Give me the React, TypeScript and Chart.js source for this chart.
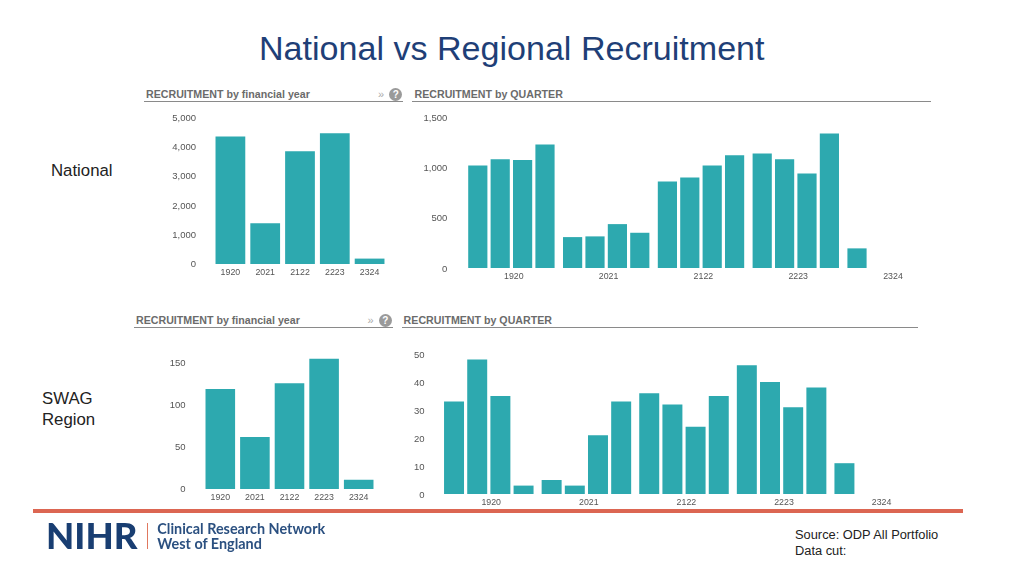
import React, { useEffect, useRef } from "react";
import { Chart, registerables } from "chart.js";

Chart.register(...registerables);

const years = ["1920", "2021", "2122", "2223", "2324"];

const nationalYear = [4370, 1395, 3865, 4480, 185];
const nationalQ1 = [1018, 307, 859, 1137, 195];
const nationalQ2 = [1080, 314, 899, 1080, null];
const nationalQ3 = [1074, 436, 1018, 938, null];
const nationalQ4 = [1226, 350, 1120, 1335, null];

const swagYear = [119, 62, 126, 155, 11];
const swagQ1 = [33, 5, 36, 46, 11];
const swagQ2 = [48, 3, 32, 40, null];
const swagQ3 = [35, 21, 24, 31, null];
const swagQ4 = [3, 33, 35, 38, null];

const TEAL = "#2da9af";
const FONT = '"Liberation Sans", Arial, sans-serif';

type Panel = {
  series: (number | null)[][];
  left: number; right: number; top: number; bottom: number;
  max: number; step: number;
  pad: number; catPct: number; barPct: number; labelOffset: number; yOffset: number;
};

const panels: Panel[] = [
  { series: [nationalYear], left: 212.8, right: 386.3, top: 118, bottom: 263.7, max: 5000, step: 1000, pad: 17, catPct: 1, barPct: 0.855, labelOffset: 0, yOffset: 0.4 },
  { series: [nationalQ1, nationalQ2, nationalQ3, nationalQ4], left: 464.2, right: 937.7, top: 117.3, bottom: 268.7, max: 1500, step: 500, pad: 16.7, catPct: 0.945, barPct: 0.857, labelOffset: 2.4, yOffset: 1 },
  { series: [swagYear], left: 202.8, right: 376.2, top: 342, bottom: 489, max: 175, step: 50, pad: 17.5, catPct: 1, barPct: 0.855, labelOffset: 0, yOffset: 0.4 },
  { series: [swagQ1, swagQ2, swagQ3, swagQ4], left: 440, right: 927.5, top: 354.3, bottom: 494, max: 50, step: 10, pad: 15.4, catPct: 0.95, barPct: 0.862, labelOffset: 2.4, yOffset: 1 },
];

const Y_W = 50;
const X_H = 18;
const PAD_TOP = 8;

function BarPanel({ p }: { p: Panel }) {
  const ref = useRef<HTMLCanvasElement>(null);
  const w = Math.round(p.right - p.left) + Y_W;
  const h = Math.round(p.bottom - p.top) + PAD_TOP + X_H;
  useEffect(() => {
    const chart = new Chart(ref.current!, {
      type: "bar",
      data: {
        labels: years,
        datasets: p.series.map((s) => ({
          data: s,
          backgroundColor: TEAL,
          borderWidth: 0,
          categoryPercentage: p.catPct,
          barPercentage: p.barPct,
        })),
      },
      options: {
        animation: false,
        responsive: false,
        devicePixelRatio: 1,
        layout: { padding: { top: PAD_TOP, left: 0, right: 0, bottom: 0 } },
        plugins: { legend: { display: false }, tooltip: { enabled: false }, title: { display: false } },
        scales: {
          x: {
            grid: { display: false, drawTicks: false },
            border: { display: false },
            ticks: { autoSkip: false, maxRotation: 0, padding: 3, labelOffset: p.labelOffset, color: "#555", font: { family: FONT, size: 8.8 } },
            afterFit: (s: any) => { s.height = X_H; s.paddingLeft = 0; s.paddingRight = 0; },
          },
          y: {
            min: 0,
            max: p.max,
            grid: { display: false, drawTicks: false },
            border: { display: false },
            ticks: {
              stepSize: p.step,
              includeBounds: false,
              padding: p.pad,
              labelOffset: p.yOffset,
              color: "#555",
              font: { family: FONT, size: 9.5 },
              callback: (v: any) => Number(v).toLocaleString("en-US"),
            },
            afterFit: (s: any) => { s.width = Y_W; s.paddingTop = 0; s.paddingBottom = 0; },
          },
        },
      },
    } as any);
    return () => chart.destroy();
  }, []);
  return (
    <canvas
      ref={ref}
      width={w}
      height={h}
      style={{ position: "absolute", left: p.left - Y_W, top: p.top - PAD_TOP, width: w, height: h, display: "block" }}
    />
  );
}

const txt = (x: number, cy: number, s: string, size: number, color: string, extra: React.CSSProperties = {}) => (
  <div
    style={{
      position: "absolute", left: x, top: cy - size, height: size * 2, lineHeight: `${size * 2}px`,
      fontFamily: FONT, fontSize: size, color, whiteSpace: "nowrap", ...extra,
    }}
  >
    {s}
  </div>
);

const rule = (x1: number, x2: number, y: number) => (
  <div style={{ position: "absolute", left: x1, top: y, width: x2 - x1, height: 1, background: "#8a8a8a" }} />
);

const help = (cx: number, cy: number) => (
  <div
    style={{
      position: "absolute", left: cx - 6.5, top: cy - 6.5, width: 13, height: 13, borderRadius: "50%", background: "#9a9a9a",
      color: "#fff", fontFamily: FONT, fontSize: 10, fontWeight: 700, lineHeight: "13px", textAlign: "center",
    }}
  >
    ?
  </div>
);

const headFont: React.CSSProperties = { fontWeight: 700 };
const HEAD = 10.65;
const HEAD_COLOR = "#6b6b6b";

export default function App() {
  return (
    <div style={{ position: "absolute", left: 0, top: 0, width: 1024, height: 576, overflow: "hidden", background: "#fff" }}>
      {txt(259, 48, "National vs Regional Recruitment", 34.07, "#1f3f77")}
      {txt(51, 171, "National", 16.8, "#222")}
      {txt(42, 399, "SWAG", 16.8, "#222")}
      {txt(42, 420, "Region", 16.8, "#222")}

      {txt(146, 94.5, "RECRUITMENT by financial year", HEAD, HEAD_COLOR, headFont)}
      {txt(378, 94, "»", 11, "#aaa")}
      {help(395.7, 94)}
      {rule(144, 402.7, 101)}
      {txt(414.5, 94.5, "RECRUITMENT by QUARTER", HEAD, HEAD_COLOR, headFont)}
      {rule(412, 931, 101)}

      {txt(136, 320.5, "RECRUITMENT by financial year", HEAD, HEAD_COLOR, headFont)}
      {txt(367.5, 320, "»", 11, "#aaa")}
      {help(385.3, 320)}
      {rule(134, 392.7, 327)}
      {txt(403.6, 320.5, "RECRUITMENT by QUARTER", HEAD, HEAD_COLOR, headFont)}
      {rule(402, 918, 327)}

      {panels.map((p, i) => <BarPanel key={i} p={p} />)}

      <div style={{ position: "absolute", left: 33, top: 509, width: 930, height: 4, background: "#dc6652" }} />
      {txt(46, 536, "NIHR", 36.6, "#193e72", { fontFamily: "Lato", fontWeight: 900 })}
      <div style={{ position: "absolute", left: 146.5, top: 523, width: 1.5, height: 26, background: "#e0785f" }} />
      {txt(157.3, 529, "Clinical Research Network", 14.4, "#2b5080", { fontFamily: "Lato", fontWeight: 700 })}
      {txt(157.3, 544, "West of England", 14.4, "#2b5080", { fontFamily: "Lato", fontWeight: 700 })}

      {txt(795, 535, "Source: ODP All Portfolio", 12.85, "#222")}
      {txt(795, 551, "Data cut:", 12.85, "#222")}
    </div>
  );
}
